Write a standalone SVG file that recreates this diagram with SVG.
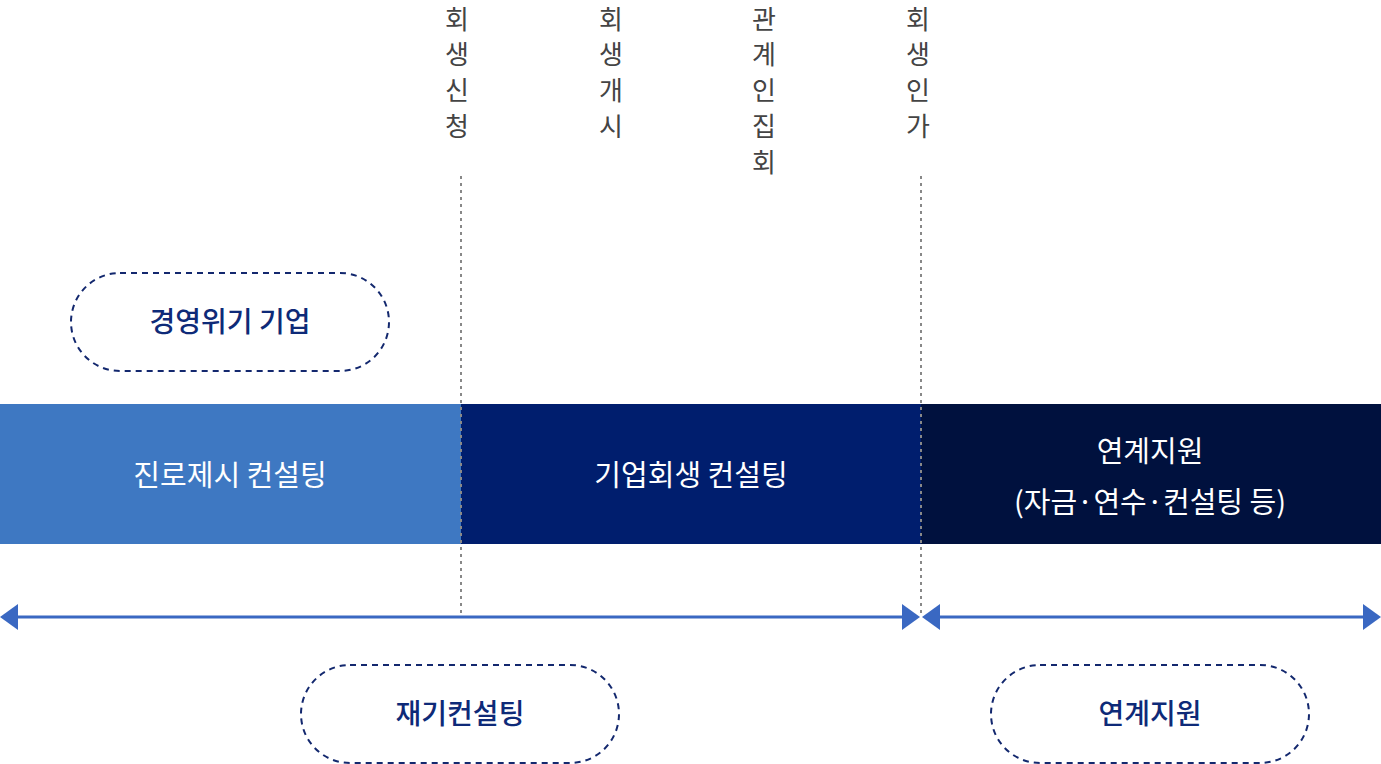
<svg xmlns="http://www.w3.org/2000/svg" width="1381" height="764" viewBox="0 0 1381 764">
<style>
text{font-family:"Noto Sans CJK KR","Noto Sans",sans-serif}
.v{font-size:26px;fill:#444}
.pill{fill:#fff;stroke:#13286e;stroke-width:2;stroke-dasharray:6 5}
.pt{font-size:28px;fill:#0e2a78;text-anchor:middle;font-weight:500}
.bt{font-size:29px;fill:#fff;text-anchor:middle}
.dot{stroke:#888;stroke-width:2;stroke-dasharray:3 4}
.ar{stroke:#3a68c2;stroke-width:3}
.ah{fill:#3a68c2}
</style>
<g id="bars">
<rect x="0" y="404" width="461" height="140" fill="#3e78c2"/>
<rect x="461" y="404" width="460" height="140" fill="#001e6e"/>
<rect x="921" y="404" width="460" height="140" fill="#00113e"/>
<text class="bt" x="230" y="486">진로제시 컨설팅</text>
<text class="bt" x="691" y="486">기업회생 컨설팅</text>
<text class="bt" x="1150" y="462">연계지원</text>
<text class="bt" x="1150" y="513">(자금·연수·컨설팅 등)</text>
</g>
<g id="labels">
<text class="v" x="457" text-anchor="middle"><tspan x="457" y="29">회</tspan><tspan x="457" y="64">생</tspan><tspan x="457" y="100">신</tspan><tspan x="457" y="136">청</tspan></text>
<text class="v" x="611" text-anchor="middle"><tspan x="611" y="29">회</tspan><tspan x="611" y="64">생</tspan><tspan x="611" y="100">개</tspan><tspan x="611" y="136">시</tspan></text>
<text class="v" x="764" text-anchor="middle"><tspan x="764" y="29">관</tspan><tspan x="764" y="64">계</tspan><tspan x="764" y="100">인</tspan><tspan x="764" y="136">집</tspan><tspan x="764" y="172">회</tspan></text>
<text class="v" x="918" text-anchor="middle"><tspan x="918" y="29">회</tspan><tspan x="918" y="64">생</tspan><tspan x="918" y="100">인</tspan><tspan x="918" y="136">가</tspan></text>
</g>
<g id="pill1"><rect class="pill" x="71" y="273" width="318" height="98" rx="49"/><text class="pt" x="230" y="332">경영위기 기업</text></g>
<g id="pill2"><rect class="pill" x="301" y="665" width="318" height="98" rx="49"/><text class="pt" x="460" y="724">재기컨설팅</text></g>
<g id="pill3"><rect class="pill" x="991" y="665" width="318" height="98" rx="49"/><text class="pt" x="1150" y="724">연계지원</text></g>
<g id="connectors">
<line class="dot" x1="461" y1="176" x2="461" y2="616"/>
<line class="dot" x1="921" y1="176" x2="921" y2="616"/>
<line class="ar" x1="16" y1="617" x2="904" y2="617"/>
<line class="ar" x1="938" y1="617" x2="1364" y2="617"/>
<polygon class="ah" points="0,617 18,604 18,630"/>
<polygon class="ah" points="920,617 902,604 902,630"/>
<polygon class="ah" points="922,617 940,604 940,630"/>
<polygon class="ah" points="1381,617 1363,604 1363,630"/>
</g>
</svg>
